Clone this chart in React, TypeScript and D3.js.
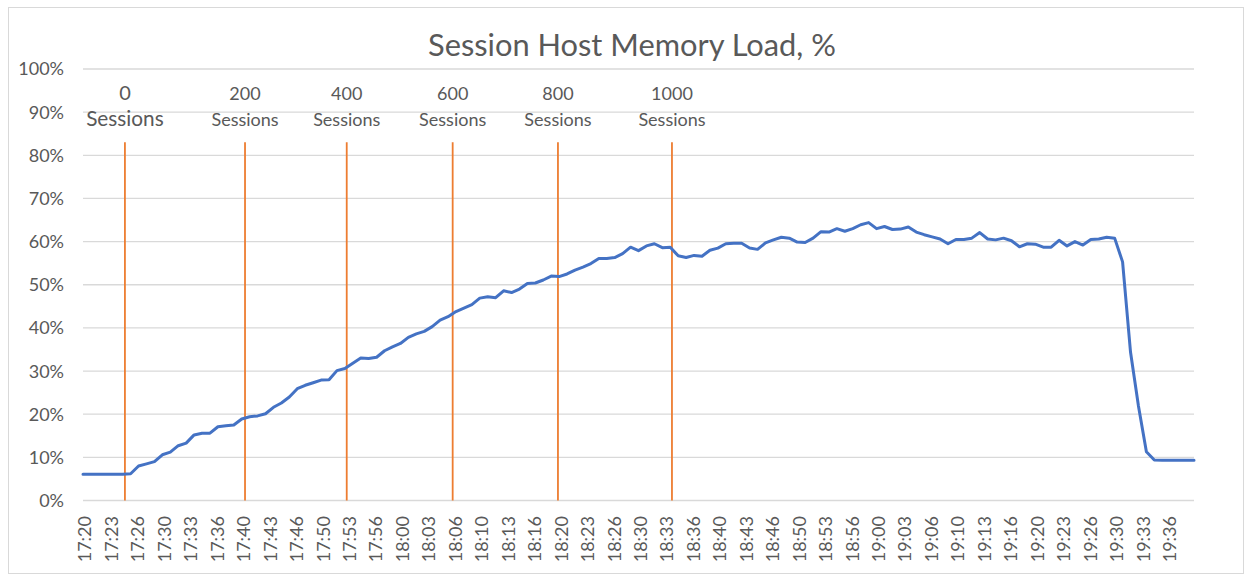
import React, { useRef, useEffect } from 'react'
import * as d3 from 'd3'

const title = 'Session Host Memory Load, %'

const yTickValues = [0, 10, 20, 30, 40, 50, 60, 70, 80, 90, 100]

const xTickLabels = [
    '17:20', '17:23', '17:26', '17:30', '17:33', '17:36', '17:40', '17:43', '17:46', '17:50',
    '17:53', '17:56', '18:00', '18:03', '18:06', '18:10', '18:13', '18:16', '18:20', '18:23',
    '18:26', '18:30', '18:33', '18:36', '18:40', '18:43', '18:46', '18:50', '18:53', '18:56',
    '19:00', '19:03', '19:06', '19:10', '19:13', '19:16', '19:20', '19:23', '19:26', '19:30',
    '19:33', '19:36'
]
const firstTickTime = '17:20:00'
const tickStepSeconds = 200

// one sample a minute
const sampleStart = '17:19:45'
const sampleStepSeconds = 60
const memoryLoad = [
    6.1, 6.1, 6.1, 6.1, 6.1, 6.1, 6.2, 8.0, 8.5, 9.0,
    10.6, 11.2, 12.7, 13.3, 15.2, 15.6, 15.6, 17.1, 17.3, 17.5,
    18.9, 19.4, 19.6, 20.1, 21.6, 22.6, 24.0, 25.9, 26.7, 27.3,
    27.9, 28.0, 30.1, 30.6, 31.8, 33.0, 32.9, 33.2, 34.7, 35.6,
    36.4, 37.8, 38.6, 39.2, 40.3, 41.8, 42.6, 43.8, 44.6, 45.4,
    46.9, 47.2, 47.0, 48.6, 48.2, 49.0, 50.3, 50.4, 51.1, 52.0,
    51.9, 52.5, 53.4, 54.1, 54.9, 56.1, 56.1, 56.3, 57.2, 58.7,
    57.9, 59.0, 59.5, 58.6, 58.7, 56.7, 56.3, 56.8, 56.6, 58.0,
    58.5, 59.5, 59.6, 59.6, 58.5, 58.2, 59.7, 60.4, 61.0, 60.8,
    59.9, 59.8, 60.8, 62.3, 62.2, 63.0, 62.4, 63.0, 63.9, 64.4,
    63.0, 63.5, 62.8, 62.9, 63.4, 62.2, 61.6, 61.1, 60.6, 59.5,
    60.5, 60.5, 60.8, 62.1, 60.6, 60.4, 60.8, 60.2, 58.8, 59.5,
    59.4, 58.7, 58.7, 60.3, 59.0, 60.0, 59.2, 60.5, 60.6, 61.0,
    60.8, 55.3, 34.4, 21.9, 11.3, 9.4, 9.3, 9.3, 9.3, 9.3,
    9.3
]

const sessionCounts = [0, 200, 400, 600, 800, 1000]
const sessionTimes = ['17:25:02', '17:40:10', '17:52:59', '18:06:20', '18:19:36', '18:33:58']
const sessionMarkerTop = 83

export default function App() {
    const visEl = useRef(null)
    const width = 1252
    const height = 579

    useEffect(() => {
        const svg = d3
            .select(visEl.current)
            .append('svg')
            .attr('width', width)
            .attr('height', height)
            .style('display', 'block')
            .style('font-family', 'Lato, sans-serif')

        const parseTime = d3.timeParse('%H:%M:%S')
        const start = parseTime(sampleStart)
        const data = memoryLoad.map((v, i) => ({
            time: d3.timeSecond.offset(start, i * sampleStepSeconds),
            value: v
        }))

        const left = 83, right = 1194, top = 69, bottom = 500.5
        const textColor = '#595959'

        const xScale = d3.scaleTime()
            .domain(d3.extent(data, d => d.time))
            .range([left, right])

        const yScale = d3.scaleLinear()
            .domain([0, 100])
            .range([bottom, top])

        // chart border
        svg.append('rect')
            .attr('x', 8.5).attr('y', 7.5)
            .attr('width', 1235).attr('height', 566)
            .attr('fill', 'white')
            .attr('stroke', '#d9d9d9')

        // gridlines
        svg.append('g').selectAll('line').data(yTickValues).enter().append('line')
            .attr('x1', left).attr('x2', right)
            .attr('y1', d => yScale(d)).attr('y2', d => yScale(d))
            .attr('stroke', '#d9d9d9')
            .attr('stroke-width', 1.3)

        svg.append('g').selectAll('text').data(yTickValues).enter().append('text')
            .attr('x', 64)
            .attr('y', d => yScale(d))
            .attr('dy', '0.36em')
            .attr('text-anchor', 'end')
            .attr('fill', textColor)
            .attr('font-size', 18)
            .text(d => d + '%')

        // x labels
        const firstTick = parseTime(firstTickTime)
        svg.append('g').selectAll('text').data(xTickLabels).enter().append('text')
            .attr('transform', (d, i) => {
                const x = xScale(d3.timeSecond.offset(firstTick, i * tickStepSeconds))
                return `translate(${x},516) rotate(-90)`
            })
            .attr('dy', '0.36em')
            .attr('text-anchor', 'end')
            .attr('fill', textColor)
            .attr('font-size', 18)
            .text(d => d)

        // session markers
        const markers = sessionCounts.map((c, i) => ({ count: c, time: parseTime(sessionTimes[i]) }))
        const markerG = svg.append('g')
        markerG.selectAll('line').data(markers).enter().append('line')
            .attr('x1', d => xScale(d.time)).attr('x2', d => xScale(d.time))
            .attr('y1', yScale(sessionMarkerTop)).attr('y2', yScale(0))
            .attr('stroke', '#ED7D31')
            .attr('stroke-width', 1.8)

        const labelG = markerG.selectAll('g.lbl').data(markers).enter().append('g')
            .attr('transform', d => `translate(${xScale(d.time)},0)`)
        labelG.append('text')
            .attr('y', 100)
            .attr('text-anchor', 'middle')
            .attr('fill', textColor)
            .attr('font-size', (d, i) => (i === 0 ? 20 : 18))
            .text(d => d.count)
        labelG.append('text')
            .attr('y', 126)
            .attr('text-anchor', 'middle')
            .attr('fill', textColor)
            .attr('font-size', (d, i) => (i === 0 ? 20.8 : 18))
            .text('Sessions')

        // memory line
        const line = d3.line()
            .x(d => xScale(d.time))
            .y(d => yScale(d.value))
        svg.append('path')
            .datum(data)
            .attr('d', line)
            .attr('fill', 'none')
            .attr('stroke', '#4472C4')
            .attr('stroke-width', 3)
            .attr('stroke-linejoin', 'round')
            .attr('stroke-linecap', 'round')

        svg.append('text')
            .attr('x', 632)
            .attr('y', 56)
            .attr('text-anchor', 'middle')
            .attr('fill', textColor)
            .attr('font-size', 30.8)
            .text(title)

        return () => { svg.remove() }
    }, [])

    return (
        <div ref={visEl} style={{ position: 'absolute', left: 0, top: 0 }}></div>
    )
}
